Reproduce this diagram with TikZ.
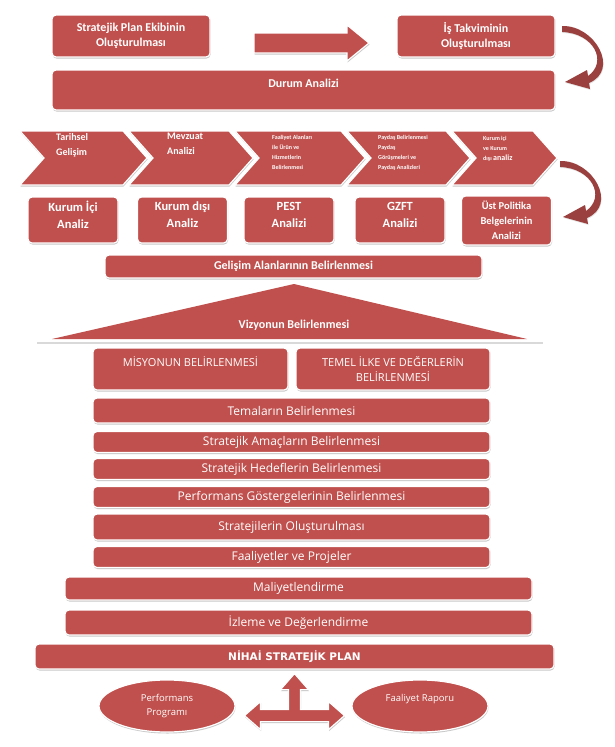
\documentclass[tikz,border=0pt]{standalone}
\usepackage{fontspec}
\setmainfont{Carlito}
\newfontfamily\govde{Open Sans}
\newfontfamily\kalinfont{DejaVu Sans}
\usetikzlibrary{shapes}
\usetikzlibrary{arrows}
\usetikzlibrary{positioning}
\usetikzlibrary{shadows}
\usetikzlibrary{calc}
\definecolor{kirmizi}{HTML}{C0504D}

\begin{document}
\begin{tikzpicture}[x=1pt,y=-1pt]
\tikzstyle{golge}=[drop shadow={shadow xshift=0.5pt,shadow yshift=-1.5pt,opacity=0.3,fill=black!70}]
\tikzstyle{kutu}=[rectangle,rounded corners=4pt,draw=white,line width=1.2pt,
        fill=kirmizi,text=white,inner sep=1pt,align=center,golge]
\tikzstyle{baslik}=[kutu,font=\bfseries\fontsize{12}{15}\selectfont]
\tikzstyle{analiz}=[kutu,font=\bfseries\fontsize{12.5}{17}\selectfont,
        minimum width=90pt,minimum height=46pt]
\tikzstyle{adim}=[kutu,font=\govde\fontsize{12}{15}\selectfont,minimum width=397pt]
\tikzstyle{sevron}=[draw=white,line width=1.2pt,fill=kirmizi,golge]
\tikzstyle{sevyazi}=[anchor=north west,inner sep=0pt,text=white,align=left]
\tikzstyle{elips}=[ellipse,draw=white,line width=1.2pt,fill=kirmizi,text=white,
        inner sep=0pt,align=center,minimum width=136pt,minimum height=52pt,
        font=\govde\fontsize{9.5}{14}\selectfont,golge]
\tikzstyle{blokok}=[draw=white,line width=1.2pt,fill=kirmizi,golge]
\tikzstyle{kavis}=[fill=kirmizi!80!black,drop shadow={shadow xshift=0.5pt,shadow yshift=-1pt,opacity=0.2}]
%zemin
\path[use as bounding box,fill=white] (0,0) rectangle (615,747);
%ust satir
\node[baslik,minimum width=158pt,minimum height=42pt] (ekip) at (131,36) {Stratejik Plan Ekibinin\\Oluşturulması};
\node[baslik,minimum width=158pt,minimum height=42pt] (takvim) at (476,36) {İş Takviminin\\Oluşturulması};
\draw[blokok] (254,33) -- (347,33) -- (347,25) -- (369,43) -- (347,61) -- (347,53) -- (254,53) -- cycle;
\node[baslik,minimum width=503pt,minimum height=40pt,text height=8pt,text depth=14pt] (durum) at (303.5,90) {Durum Analizi};
%sevronlar
\draw[sevron] (20,131) -- (123,131) -- (147,158) -- (123,185) -- (20,185) -- (44,158) -- cycle;
\draw[sevron] (129,131) -- (229,131) -- (253,158) -- (229,185) -- (129,185) -- (153,158) -- cycle;
\draw[sevron] (235,131) -- (341,131) -- (365,158) -- (341,185) -- (235,185) -- (259,158) -- cycle;
\draw[sevron] (347,131) -- (446,131) -- (470,158) -- (446,185) -- (347,185) -- (371,158) -- cycle;
\draw[sevron] (452,131) -- (533,131) -- (557,158) -- (533,185) -- (452,185) -- (476,158) -- cycle;
\node[sevyazi,font=\bfseries\fontsize{10}{15}\selectfont] (tarihsel) at (56,133) {Tarihsel\\Gelişim};
\node[sevyazi,font=\bfseries\fontsize{10}{15}\selectfont] (mevzuat) at (167,133) {Mevzuat\\Analizi};
\node[sevyazi,font=\bfseries\fontsize{6}{10}\selectfont] (faaliyetalan) at (272,135) {Faaliyet Alanları\\ile Ürün ve\\Hizmetlerin\\Belirlenmesi};
\node[sevyazi,font=\bfseries\fontsize{6}{10}\selectfont] (paydas) at (378,135) {Paydaş Belirlenmesi\\Paydaş\\Görüşmeleri ve\\Paydaş Analizleri};
\node[sevyazi,font=\bfseries\fontsize{6}{10}\selectfont] (icdis) at (483,136) {Kurum içi\\ve Kurum\\dışı {\fontsize{8}{10}\selectfont analiz}};
%analizler
\node[analiz,text depth=10pt] (kurumici) at (73,220) {Kurum İçi\\Analiz};
\node[analiz,text depth=10pt] (kurumdisi) at (182.5,220) {Kurum dışı\\Analiz};
\node[analiz,text depth=10pt] (pest) at (289,220) {PEST\\Analizi};
\node[analiz,text depth=10pt] (gzft) at (400,220) {GZFT\\Analizi};
\node[analiz,font=\bfseries\fontsize{10.5}{15}\selectfont,minimum height=49pt] (ustpolitika) at (506.5,220.5) {Üst Politika\\Belgelerinin\\Analizi};
%kavisli oklar
\fill[kavis] (562,26) .. controls (595,25) and (620,70) .. (589,83) -- (590,89) -- (565,82) -- (587,70)
      -- (588,76) .. controls (608,62) and (594,33) .. (562,32) -- cycle;
\fill[kavis] (560,161) .. controls (593,160) and (618,205) .. (587,218) -- (588,224) -- (563,217) -- (585,205)
      -- (586,211) .. controls (606,197) and (592,168) .. (560,167) -- cycle;
%gelisim ve vizyon
\node[baslik,minimum width=377pt,minimum height=23pt] (gelisim) at (293.5,266.5) {Gelişim Alanlarının Belirlenmesi};
\draw[gray!30,line width=1.5pt] (37,343) -- (543,343);
\fill[kirmizi] (294,284) -- (527,339) -- (52,339) -- cycle;
\node[text=white,font=\bfseries\fontsize{12}{15}\selectfont] (vizyon) at (294,325) {Vizyonun Belirlenmesi};
%adimlar
\node[adim,font=\govde\fontsize{11}{15}\selectfont,minimum width=195pt,minimum height=42pt,text height=8.5pt,text depth=14pt] (misyon) at (190.5,369) {MİSYONUN BELİRLENMESİ};
\node[adim,font=\govde\fontsize{11}{15}\selectfont,minimum width=194pt,minimum height=42pt] (temel) at (393,369) {TEMEL İLKE VE DEĞERLERİN\\BELİRLENMESİ};
\node[adim,minimum height=25pt] (temalar) at (291.5,410.5) {Temaların Belirlenmesi};
\node[adim,minimum height=21pt] (amaclar) at (291.5,442) {Stratejik Amaçların Belirlenmesi};
\node[adim,minimum height=21pt] (hedefler) at (291.5,469) {Stratejik Hedeflerin Belirlenmesi};
\node[adim,minimum height=21pt] (gostergeler) at (291.5,497) {Performans Göstergelerinin Belirlenmesi};
\node[adim,minimum height=26pt] (stratejiler) at (291.5,527) {Stratejilerin Oluşturulması};
\node[adim,minimum height=21pt] (projeler) at (291.5,557) {Faaliyetler ve Projeler};
\node[adim,minimum width=467pt,minimum height=23pt] (maliyet) at (298.5,588.5) {Maliyetlendirme};
\node[adim,minimum width=467pt,minimum height=25pt] (izleme) at (298.5,622.5) {İzleme ve Değerlendirme};
\node[kutu,font=\kalinfont\bfseries\fontsize{10.5}{14}\selectfont,minimum width=519pt,minimum height=25pt] (nihai) at (294.5,656.5) {NİHAİ STRATEJİK PLAN};
%alt kisim
\node[elips] (perfprog) at (167,706) {Performans\\Programı};
\node[elips,text height=7pt,text depth=16pt] (rapor) at (420,706) {Faaliyet Raporu};
\coordinate (uc) at ($(nihai.south)+(0,4)$);
\draw[blokok,shift={(uc)}] (0,0) -- (14,16) -- (6,16) -- (6,36) -- (34,36) -- (34,28) -- (50,42) -- (34,56) -- (34,48)
      -- (-34,48) -- (-34,56) -- (-50,42) -- (-34,28) -- (-34,36) -- (-6,36) -- (-6,16) -- (-14,16) -- cycle;
\end{tikzpicture}
\end{document}
